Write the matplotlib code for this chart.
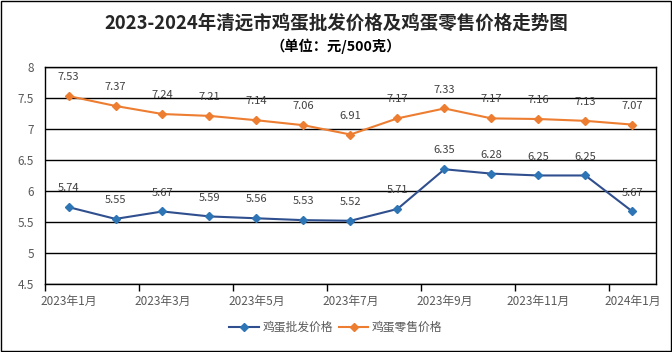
import matplotlib.pyplot as plt
import numpy as np

plt.rcParams['font.family'] = ['Noto Sans CJK SC', 'DejaVu Sans']

months = ['2023年1月', '2023年2月', '2023年3月', '2023年4月', '2023年5月', '2023年6月',
          '2023年7月', '2023年8月', '2023年9月', '2023年10月', '2023年11月', '2023年12月',
          '2024年1月']
wholesale = [5.74, 5.55, 5.67, 5.59, 5.56, 5.53, 5.52, 5.71, 6.35, 6.28, 6.25, 6.25, 5.67]
retail = [7.53, 7.37, 7.24, 7.21, 7.14, 7.06, 6.91, 7.17, 7.33, 7.17, 7.16, 7.13, 7.07]

fig = plt.figure(figsize=(6.72, 3.52), dpi=100)
ax = fig.add_axes([0.067, 0.193, 0.909, 0.617])

x = np.arange(len(months))
ax.plot(x, wholesale, color='#2F4F8F', lw=1.5, marker='D', ms=4,
        mfc='#2E75B6', mec='#2E75B6', label='鸡蛋批发价格')
ax.plot(x, retail, color='#ED7D31', lw=1.5, marker='D', ms=4,
        mfc='#ED7D31', mec='#ED7D31', label='鸡蛋零售价格')

for xi, v in zip(x, wholesale):
    ax.annotate(f'{v:.2f}', (xi, v), xytext=(0, 10), textcoords='offset points',
                ha='center', va='bottom', fontsize=8, color='#404040')
for xi, v in zip(x, retail):
    ax.annotate(f'{v:.2f}', (xi, v), xytext=(0, 10), textcoords='offset points',
                ha='center', va='bottom', fontsize=8, color='#404040')

ax.set_xlim(-0.5, len(months) - 0.5)
ax.set_ylim(4.5, 8)
ax.set_yticks(np.arange(4.5, 8.01, 0.5))
ax.set_yticklabels(['4.5', '5', '5.5', '6', '6.5', '7', '7.5', '8'])
ax.yaxis.grid(True, color='black', lw=1)
ax.set_axisbelow(True)

ax.set_xticks(x[::2])
ax.set_xticklabels(months[::2])
ax.set_xticks(np.arange(-0.5, len(months), 2), minor=True)
ax.tick_params(axis='x', which='major', length=0, pad=8)
ax.tick_params(axis='x', which='minor', length=5, width=1, color='black')
ax.tick_params(axis='y', length=0, pad=8)
ax.tick_params(labelsize=8.5, labelcolor='#595959')
for s in ax.spines.values():
    s.set_color('black')
    s.set_linewidth(1)

fig.text(0.5, 0.935, '2023-2024年清远市鸡蛋批发价格及鸡蛋零售价格走势图',
         ha='center', va='center', fontsize=13.3, fontweight='bold', color='#262626')
fig.text(0.5, 0.868, '（单位：元/500克）', ha='center', va='center',
         fontsize=10.3, fontweight='bold', color='black')

fig.legend(loc='center', bbox_to_anchor=(0.5, 0.07), ncol=2, frameon=False,
           fontsize=8.5, labelcolor='#595959', handlelength=2.5, columnspacing=0.5,
           handletextpad=0.3)

fig.patches.append(plt.Rectangle((0.002, 0.003), 0.996, 0.994, transform=fig.transFigure,
                                 fill=False, ec='black', lw=1))

fig.savefig('out.png', dpi=100)
